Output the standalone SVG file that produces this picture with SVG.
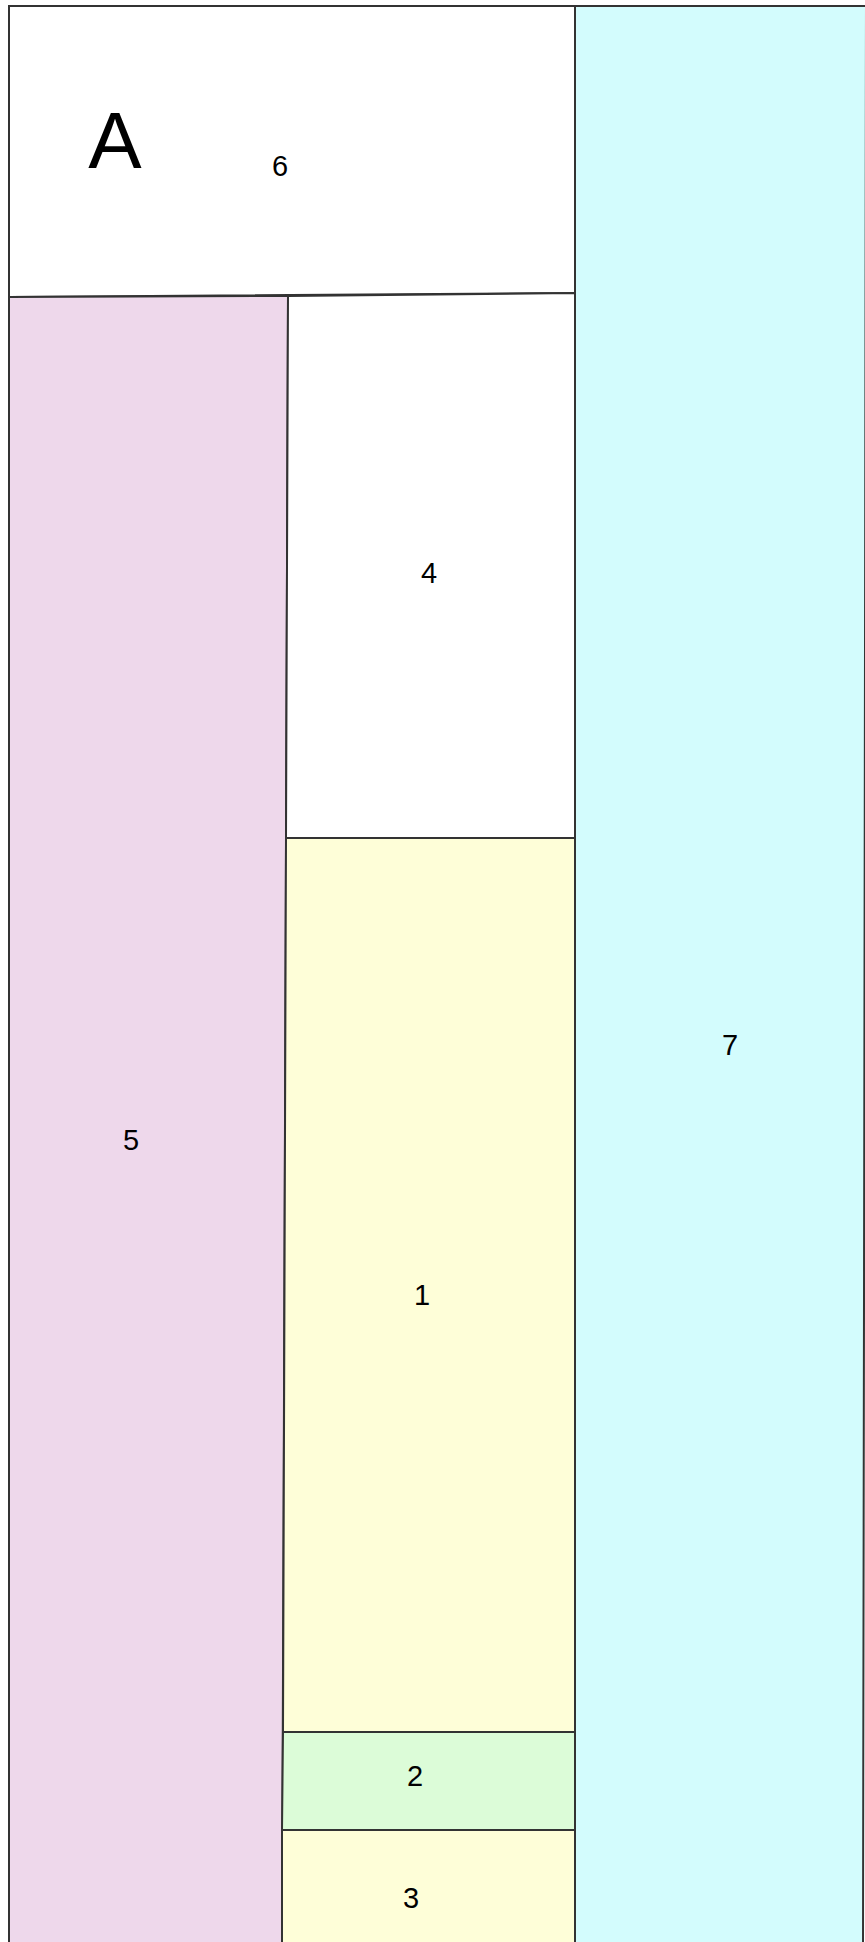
<svg xmlns="http://www.w3.org/2000/svg" width="865" height="1942" viewBox="0 0 865 1942">
<style>
.box{stroke:#333;stroke-width:2;stroke-linejoin:miter}
.lbl{font-family:"Liberation Sans",Arial,sans-serif;font-size:29px;fill:#000;text-anchor:middle}
.big{font-family:"Liberation Sans",Arial,sans-serif;font-size:80px;fill:#000;text-anchor:middle}
</style>
<rect width="865" height="1942" fill="#fff"/>
<g id="node7"><polygon class="box" fill="#d3fcfd" points="575,6 866,6 863,1950 575,1950"/><text class="lbl" x="730" y="1055">7</text></g>
<g id="node6"><polygon class="box" fill="#ffffff" points="9,6 575,6 575,293 9,297"/><text class="big" x="115" y="168">A</text><text class="lbl" x="280" y="176">6</text></g>
<g id="node5"><polygon class="box" fill="#eed8eb" points="9,297 288,296 282,1950 9,1950"/><text class="lbl" x="131" y="1150">5</text></g>
<g id="node4"><polygon class="box" fill="#ffffff" points="288,296 575,293 575,838 286,838"/><text class="lbl" x="429" y="583">4</text></g>
<g id="node1"><polygon class="box" fill="#fefed8" points="286,838 575,838 575,1732 283,1732"/><text class="lbl" x="422" y="1305">1</text></g>
<g id="node2"><polygon class="box" fill="#dcfcd8" points="283,1732 575,1732 575,1830 282,1830"/><text class="lbl" x="415" y="1786">2</text></g>
<g id="node3"><polygon class="box" fill="#fefed8" points="282,1830 575,1830 575,1950 282,1950"/><text class="lbl" x="411" y="1908">3</text></g>
<g id="connectors"/>
</svg>
